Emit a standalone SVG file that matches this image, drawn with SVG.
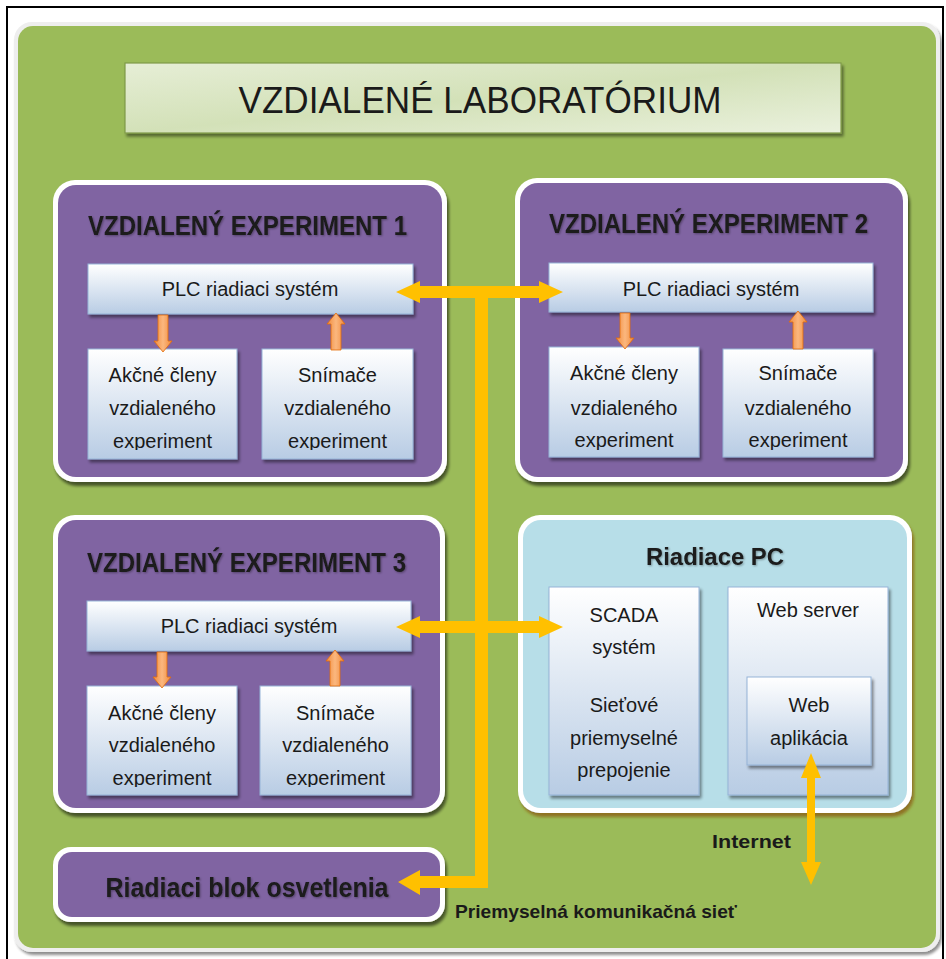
<svg xmlns="http://www.w3.org/2000/svg" width="946" height="959" viewBox="0 0 946 959">
<defs>
<filter id="sh" x="-10%" y="-10%" width="125%" height="130%"><feGaussianBlur in="SourceAlpha" stdDeviation="1.8"/><feOffset dx="2" dy="3"/><feComponentTransfer><feFuncA type="linear" slope="0.45"/></feComponentTransfer><feMerge><feMergeNode/><feMergeNode in="SourceGraphic"/></feMerge></filter>
<filter id="shb" x="-10%" y="-10%" width="125%" height="130%"><feGaussianBlur in="SourceAlpha" stdDeviation="1.8"/><feOffset dx="2" dy="4"/><feComponentTransfer><feFuncA type="linear" slope="0.55"/></feComponentTransfer><feMerge><feMergeNode/><feMergeNode in="SourceGraphic"/></feMerge></filter>
<filter id="shp" x="-10%" y="-10%" width="125%" height="130%"><feGaussianBlur in="SourceAlpha" stdDeviation="1.8"/><feOffset dx="2" dy="4"/><feFlood flood-color="#8a5a10" flood-opacity="0.75"/><feComposite operator="in" in2="SourceAlpha" result="f"/><feGaussianBlur in="f" stdDeviation="1.5"/><feOffset dx="2" dy="4"/><feMerge><feMergeNode/><feMergeNode in="SourceGraphic"/></feMerge></filter>
<filter id="tsh" x="-5%" y="-20%" width="110%" height="140%"><feGaussianBlur in="SourceAlpha" stdDeviation="1"/><feOffset dx="1" dy="1"/><feComponentTransfer><feFuncA type="linear" slope="0.35"/></feComponentTransfer><feMerge><feMergeNode/><feMergeNode in="SourceGraphic"/></feMerge></filter>
<linearGradient id="bx" x1="0" y1="0" x2="0" y2="1"><stop offset="0" stop-color="#ffffff"/><stop offset="1" stop-color="#b8cce4"/></linearGradient>
<linearGradient id="tg" x1="0" y1="0" x2="1" y2="1"><stop offset="0" stop-color="#e6eed6"/><stop offset="0.5" stop-color="#d3e1b8"/><stop offset="1" stop-color="#eaf1dd"/></linearGradient>
<linearGradient id="og" x1="0" y1="0" x2="1" y2="0"><stop offset="0" stop-color="#f08a3c"/><stop offset="0.5" stop-color="#fbb77e"/><stop offset="1" stop-color="#f08a3c"/></linearGradient>
<clipPath id="c1"><rect x="0" y="0" width="946" height="450"/></clipPath>
<clipPath id="c3"><rect x="0" y="0" width="946" height="787"/></clipPath>
<style>
.t{font-family:"Liberation Sans",Arial,sans-serif;fill:#1a1a1a;text-anchor:middle}
.b{font-family:"Liberation Sans",Arial,sans-serif;font-size:20px;fill:#1a1a1a;text-anchor:middle}
.hd{font-weight:bold;font-size:28px}
.wb{fill:#ffffff}
.pu{fill:#8064a2}
.box{fill:url(#bx);stroke:#95b3d7;stroke-width:1}
.oa{fill:url(#og);stroke:#e36c09;stroke-width:0.8}
.ya{fill:#ffc000}
</style>
</defs>
<rect x="0" y="0" width="946" height="959" fill="#ffffff"/>
<rect x="7" y="7" width="936" height="962" fill="none" stroke="#000000" stroke-width="2"/>

<g id="panel">
<rect x="14" y="22" width="926" height="930" rx="18" fill="#eeeeee" filter="url(#sh)"/>
<rect x="18" y="26" width="918" height="922" rx="15" fill="#9bbb59"/>
</g>

<g id="title">
<rect x="125" y="63" width="716" height="70" fill="url(#tg)" stroke="#7f9a48" stroke-width="1.2" filter="url(#sh)"/>
<text class="t" x="480" y="113" font-size="36" textLength="483" lengthAdjust="spacingAndGlyphs">VZDIALENÉ LABORATÓRIUM</text>
</g>

<g id="exp1">
<rect class="wb" x="53" y="180" width="394" height="302" rx="22" filter="url(#shb)"/>
<rect class="pu" x="58" y="185" width="384" height="292" rx="18"/>
<text class="t hd" x="247.5" y="235" textLength="319" lengthAdjust="spacingAndGlyphs" filter="url(#tsh)">VZDIALENÝ EXPERIMENT 1</text>
<rect class="box" x="88" y="264" width="325" height="50" filter="url(#sh)"/>
<text class="b" x="250" y="296">PLC riadiaci systém</text>
<rect class="box" x="88" y="349" width="149" height="110" filter="url(#sh)"/>
<rect class="box" x="262" y="349" width="151" height="110" filter="url(#sh)"/>
<text class="b" x="162.5" y="382">Akčné členy</text>
<text class="b" x="162.5" y="415">vzdialeného</text>
<text class="b" x="162.5" y="448" clip-path="url(#c1)">experiment</text>
<text class="b" x="337.5" y="382">Snímače</text>
<text class="b" x="337.5" y="415">vzdialeného</text>
<text class="b" x="337.5" y="448" clip-path="url(#c1)">experiment</text>
<path class="oa" d="M158 315 L168 315 L168 341 L172 341 L163 352 L154 341 L158 341 Z"/>
<path class="oa" d="M331 350 L341 350 L341 324 L345 324 L336 313 L327 324 L331 324 Z"/>
</g>

<g id="exp2">
<rect class="wb" x="515" y="178" width="393" height="304" rx="22" filter="url(#shb)"/>
<rect class="pu" x="520" y="183" width="383" height="294" rx="18"/>
<text class="t hd" x="708.5" y="233" textLength="319" lengthAdjust="spacingAndGlyphs" filter="url(#tsh)">VZDIALENÝ EXPERIMENT 2</text>
<rect class="box" x="549" y="263" width="324" height="49" filter="url(#sh)"/>
<text class="b" x="711" y="296">PLC riadiaci systém</text>
<rect class="box" x="549" y="347" width="150" height="110" filter="url(#sh)"/>
<rect class="box" x="723" y="349" width="150" height="108" filter="url(#sh)"/>
<text class="b" x="624" y="380">Akčné členy</text>
<text class="b" x="624" y="415">vzdialeného</text>
<text class="b" x="624" y="447" clip-path="url(#c1)">experiment</text>
<text class="b" x="798" y="380">Snímače</text>
<text class="b" x="798" y="415">vzdialeného</text>
<text class="b" x="798" y="447" clip-path="url(#c1)">experiment</text>
<path class="oa" d="M620 313 L630 313 L630 338 L634 338 L625 349 L616 338 L620 338 Z"/>
<path class="oa" d="M793 349 L803 349 L803 322 L807 322 L798 311 L789 322 L793 322 Z"/>
</g>

<g id="exp3">
<rect class="wb" x="53" y="515" width="392" height="298" rx="22" filter="url(#shb)"/>
<rect class="pu" x="58" y="520" width="382" height="288" rx="18"/>
<text class="t hd" x="246.5" y="572" textLength="319" lengthAdjust="spacingAndGlyphs" filter="url(#tsh)">VZDIALENÝ EXPERIMENT 3</text>
<rect class="box" x="87" y="601" width="324" height="50" filter="url(#sh)"/>
<text class="b" x="249" y="633">PLC riadiaci systém</text>
<rect class="box" x="87" y="686" width="150" height="109" filter="url(#sh)"/>
<rect class="box" x="260" y="686" width="151" height="109" filter="url(#sh)"/>
<text class="b" x="162" y="720">Akčné členy</text>
<text class="b" x="162" y="752">vzdialeného</text>
<text class="b" x="162" y="785" clip-path="url(#c3)">experiment</text>
<text class="b" x="335.5" y="720">Snímače</text>
<text class="b" x="335.5" y="752">vzdialeného</text>
<text class="b" x="335.5" y="785" clip-path="url(#c3)">experiment</text>
<path class="oa" d="M157 652 L167 652 L167 677 L171 677 L162 688 L153 677 L157 677 Z"/>
<path class="oa" d="M330 686 L340 686 L340 661 L344 661 L335 650 L326 661 L330 661 Z"/>
</g>

<g id="pc">
<rect class="wb" x="518" y="515" width="394" height="298" rx="22" filter="url(#shp)"/>
<rect x="523" y="520" width="384" height="288" rx="18" fill="#b7dee8"/>
<text class="t" x="715" y="565" font-size="24" font-weight="bold" textLength="138" lengthAdjust="spacingAndGlyphs" filter="url(#tsh)">Riadiace PC</text>
<rect class="box" x="549" y="587" width="150" height="208" filter="url(#sh)"/>
<text class="b" x="624" y="622">SCADA</text>
<text class="b" x="624" y="654">systém</text>
<text class="b" x="624" y="712">Sieťové</text>
<text class="b" x="624" y="745">priemyselné</text>
<text class="b" x="624" y="777">prepojenie</text>
<rect class="box" x="728" y="587" width="160" height="208" filter="url(#sh)"/>
<text class="b" x="808" y="617">Web server</text>
<rect class="box" x="747" y="677" width="124" height="88" filter="url(#sh)"/>
<text class="b" x="809" y="712">Web</text>
<text class="b" x="809" y="745">aplikácia</text>
</g>

<g id="light">
<rect class="wb" x="53" y="847" width="392" height="75" rx="18" filter="url(#shb)"/>
<rect class="pu" x="58" y="852" width="382" height="65" rx="14"/>
<text class="t" x="247" y="897" font-size="28" font-weight="bold" textLength="283" lengthAdjust="spacingAndGlyphs" filter="url(#tsh)">Riadiaci blok osvetlenia</text>
</g>

<g id="connectors">
<rect class="ya" x="475" y="286" width="13" height="602"/>
<path class="ya" d="M396 292 L420 281 L420 286 L539 286 L539 281 L563 292 L539 303 L539 298 L420 298 L420 303 Z"/>
<path class="ya" d="M396 627 L420 616 L420 621 L539 621 L539 616 L563 627 L539 638 L539 633 L420 633 L420 638 Z"/>
<path class="ya" d="M398 882 L420 870 L420 876 L488 876 L488 888 L420 888 L420 895 Z"/>
<path class="ya" d="M811 753 L821 778 L815 778 L815 862 L821 862 L811 885 L801 862 L807 862 L807 778 L801 778 Z"/>
<text class="t" x="751.5" y="848" font-size="18" font-weight="bold" textLength="79" lengthAdjust="spacingAndGlyphs">Internet</text>
<text x="455" y="918" font-family="Liberation Sans, Arial, sans-serif" font-size="18.5" font-weight="bold" fill="#1a1a1a" textLength="282" lengthAdjust="spacingAndGlyphs">Priemyselná komunikačná sieť</text>
</g>
</svg>
